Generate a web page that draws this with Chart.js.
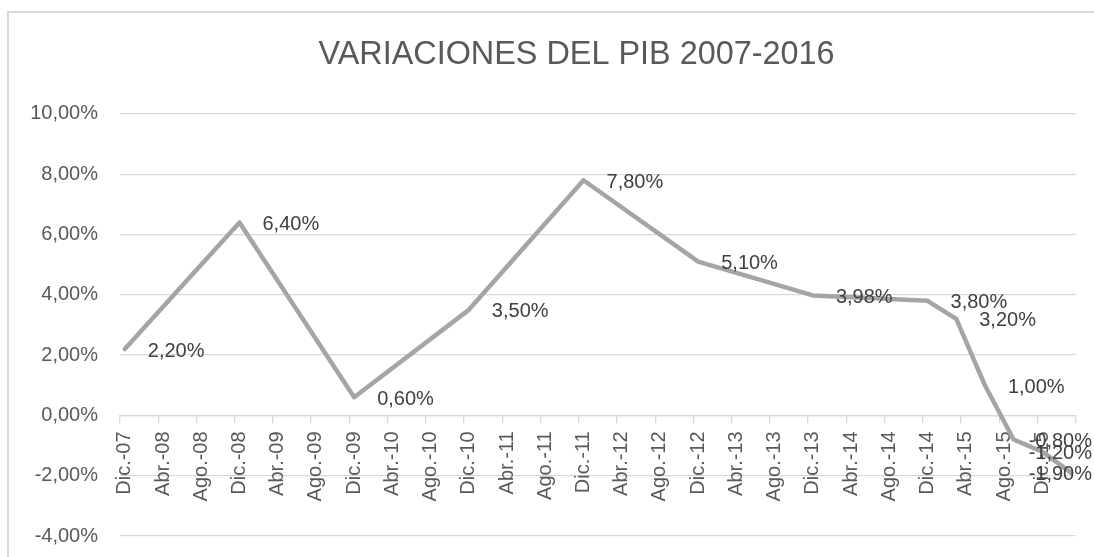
<!DOCTYPE html>
<html>
<head>
<meta charset="utf-8">
<script src="https://cdn.jsdelivr.net/npm/chart.js@4/dist/chart.umd.min.js"></script>
<style>
  html, body { margin: 0; padding: 0; background: #fff; overflow: hidden; }
  body { width: 1094px; height: 557px; position: relative; }
  #frame {
    position: absolute; left: 7px; top: 11px; width: 1200px; height: 600px;
    border: 2px solid #d9d9d9; box-sizing: border-box;
  }
  #chart { position: absolute; left: 0; top: 0; }
</style>
</head>
<body>
<div id="frame"></div>
<canvas id="chart" width="1145" height="570"></canvas>
<script>
    'use strict';

    // Month names as Excel prints them (es-ES)
    const MONTHS = ['Ene.', 'Feb.', 'Mar.', 'Abr.', 'May.', 'Jun.', 'Jul.', 'Ago.', 'Sep.', 'Oct.', 'Nov.', 'Dic.'];
    // Axis runs from Dic.-07 through Mar.-16
    const AXIS_START = { month: 11, year: 2007 };
    const AXIS_END = { month: 2, year: 2016 };
    const TICK_EVERY = 4; // a labelled tick every 4 months

    // PIB variation (%)
    const pointDates = ['Dic.-07', 'Dic.-08', 'Dic.-09', 'Dic.-10', 'Dic.-11', 'Dic.-12', 'Dic.-13',
                        'Dic.-14', 'Mar.-15', 'Jun.-15', 'Sep.-15', 'Dic.-15', 'Mar.-16'];
    const pibValues = [2.20, 6.40, 0.60, 3.50, 7.80, 5.10, 3.98, 3.80, 3.20, 1.00, -0.80, -1.20, -1.90];

    const COLORS = {
        line: '#a5a5a5',
        grid: '#d9d9d9',
        axisText: '#595959',
        labelText: '#404040',
    };
    const FONT = "'Liberation Sans', Arial, sans-serif";

    function monthLabel(m, y) {
        return MONTHS[m] + '-' + String(y % 100).padStart(2, '0');
    }

    function buildMonths() {
        const out = [];
        let m = AXIS_START.month, y = AXIS_START.year;
        while (y < AXIS_END.year || (y === AXIS_END.year && m <= AXIS_END.month)) {
            out.push(monthLabel(m, y));
            m++;
            if (m > 11) { m = 0; y++; }
        }
        return out;
    }

    function pct(v) {
        return v.toFixed(2).replace('.', ',') + '%';
    }

    const months = buildMonths();

    // Excel-style data labels to the right of each point
    const dataLabels = {
        id: 'dataLabels',
        afterDatasetsDraw(chart) {
            const ctx = chart.ctx;
            const meta = chart.getDatasetMeta(0);
            const visibleRight = 1094;
            ctx.save();
            ctx.font = '20px ' + FONT;
            ctx.fillStyle = COLORS.labelText;
            ctx.textBaseline = 'middle';
            ctx.textAlign = 'left';
            meta.data.forEach((pt, i) => {
                const text = pct(pibValues[i]);
                const w = ctx.measureText(text).width;
                const x = Math.min(pt.x + 23, visibleRight - w - 2);
                ctx.fillText(text, x, pt.y + 2);
            });
            ctx.restore();
        }
    };

    new Chart(document.getElementById('chart'), {
        type: 'line',
        data: {
            labels: months,
            datasets: [{
                label: 'PIB',
                data: pointDates.map((d, i) => ({ x: d, y: pibValues[i] })),
                borderColor: COLORS.line,
                borderWidth: 4.5,
                borderJoinStyle: 'round',
                borderCapStyle: 'round',
                pointRadius: 0,
                fill: false,
                tension: 0
            }]
        },
        options: {
            responsive: false,
            animation: false,
            layout: { padding: { left: 8, right: 0, top: 0, bottom: 0 } },
            plugins: {
                legend: { display: false },
                tooltip: { enabled: false },
                title: {
                    display: true,
                    text: 'VARIACIONES DEL PIB 2007-2016',
                    color: COLORS.axisText,
                    font: { family: FONT, size: 32.4, weight: 'normal' },
                    padding: { top: 36, bottom: 39 }
                }
            },
            scales: {
                x: {
                    type: 'category',
                    position: { y: 0 },
                    offset: true,
                    border: { display: true, color: COLORS.grid, width: 1.3 },
                    grid: {
                        offset: true,
                        drawOnChartArea: false,
                        drawTicks: true,
                        tickLength: 7,
                        lineWidth: 1.3,
                        color: c => (c.index === undefined || c.index % TICK_EVERY === 0) ? COLORS.grid : 'rgba(0,0,0,0)'
                    },
                    ticks: {
                        autoSkip: false,
                        maxRotation: 90,
                        minRotation: 90,
                        padding: 9,
                        color: COLORS.axisText,
                        font: { family: FONT, size: 20 },
                        callback: function(value, index) {
                            return index % TICK_EVERY === 0 ? this.getLabelForValue(value) : '';
                        }
                    }
                },
                y: {
                    min: -4,
                    max: 10,
                    border: { display: false },
                    grid: { color: COLORS.grid, lineWidth: 1.3, drawTicks: false },
                    ticks: {
                        stepSize: 2,
                        padding: 22,
                        color: COLORS.axisText,
                        font: { family: FONT, size: 20 },
                        callback: v => pct(v)
                    },
                    afterFit: scale => { scale.width = 112; }
                },
                // blank right-hand spacer so the title centres like Excel's chart area
                yRight: {
                    position: 'right',
                    min: -4,
                    max: 10,
                    border: { display: false },
                    grid: { drawOnChartArea: false, drawTicks: false },
                    ticks: { display: false },
                    afterFit: scale => { scale.width = 69.3; }
                }
            }
        },
        plugins: [dataLabels]
    });
</script>
</body>
</html>
